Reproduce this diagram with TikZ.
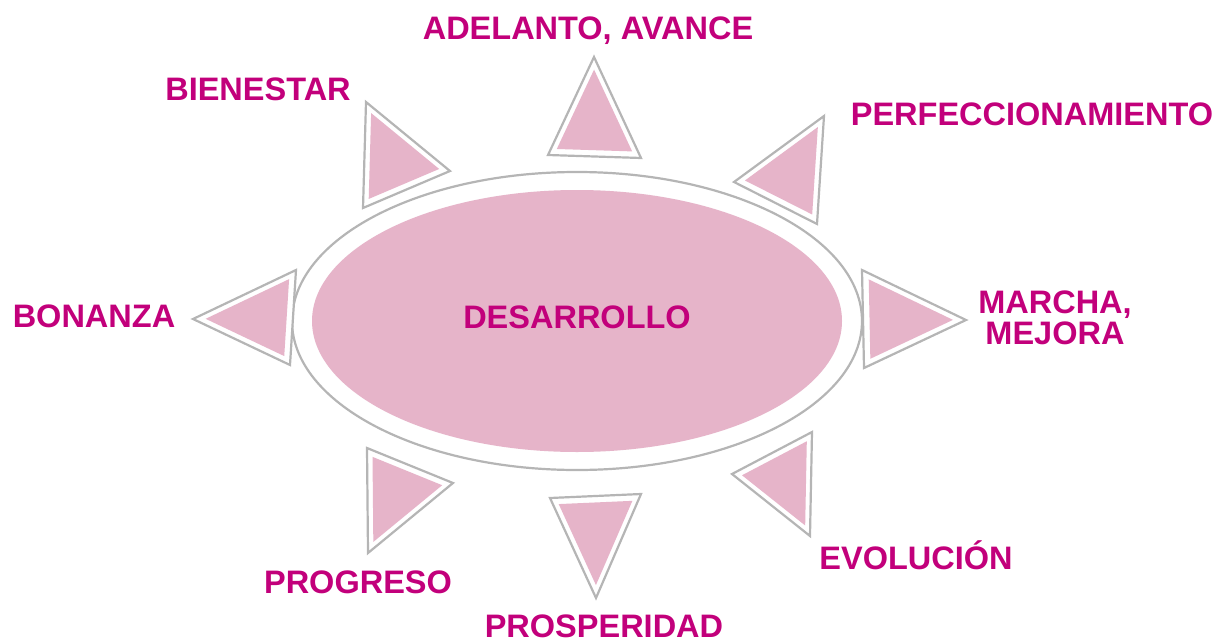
\documentclass[tikz,border=0pt]{standalone}
\usepackage{fontspec}
\setmainfont{Liberation Sans}
\usetikzlibrary{calc}
\definecolor{mag}{HTML}{C2007B}
\definecolor{pk}{HTML}{E6B4C9}
\definecolor{gr}{HTML}{B5B5B5}
\tikzset{
  lbl/.style={text=mag, font=\fontsize{32.5}{34}\selectfont\bfseries, inner sep=0pt, text height=23pt, text depth=0pt},
  outl/.style={draw=gr, line width=2.2pt, line join=miter},
  fillpk/.style={fill=pk},
}
\begin{document}
\begin{tikzpicture}[x=1pt,y=-1pt]
\useasboundingbox (0,0) rectangle (1218,642);
% central ellipse
\draw[outl, fill=white] (577,321) ellipse [x radius=285, y radius=149];
\fill[fillpk] (577,321) ellipse [x radius=265, y radius=131];
\node[lbl] (core) at (577,317) {DESARROLLO};
% spikes
\foreach \n/\ax/\ay/\bx/\by/\cx/\cy in {
  top/594/57/548/155/641/158,
  tr/824/116/734/182/817/224,
  r/966/320/862/270/864/368,
  br/812/432/732/474/810/536,
  b/596/598/550/498/641/494,
  bl/367/448/453/483/368/553,
  l/193/319/296/270/290/365,
  tl/366/102/450/171/363/208}{
  \coordinate (\n a) at (\ax,\ay);
  \coordinate (\n b) at (\bx,\by);
  \coordinate (\n c) at (\cx,\cy);
  \coordinate (\n g) at ($0.3333*(\n a)+0.3333*(\n b)+0.3334*(\n c)$);
  \draw[outl, fill=white] (\n a) -- (\n b) -- (\n c) -- cycle;
  \fill[fillpk] ($(\n g)!0.81!(\n a)$) -- ($(\n g)!0.81!(\n b)$) -- ($(\n g)!0.81!(\n c)$) -- cycle;
}
% labels
\node[lbl] (adel) at (588,28) {ADELANTO, AVANCE};
\node[lbl] (bien) at (258,89) {BIENESTAR};
\node[lbl] (perf) at (1032,114) {PERFECCIONAMIENTO};
\node[lbl] (bona) at (94,316) {BONANZA};
\node[text=mag, font=\fontsize{32.5}{31}\selectfont\bfseries, inner sep=0pt, align=center] (marc) at (1055,318) {MARCHA,\\MEJORA};
\node[lbl] (evol) at (916,558) {EVOLUCIÓN};
\node[lbl] (prog) at (358,582) {PROGRESO};
\node[lbl] (pros) at (604,626) {PROSPERIDAD};
\end{tikzpicture}
\end{document}
